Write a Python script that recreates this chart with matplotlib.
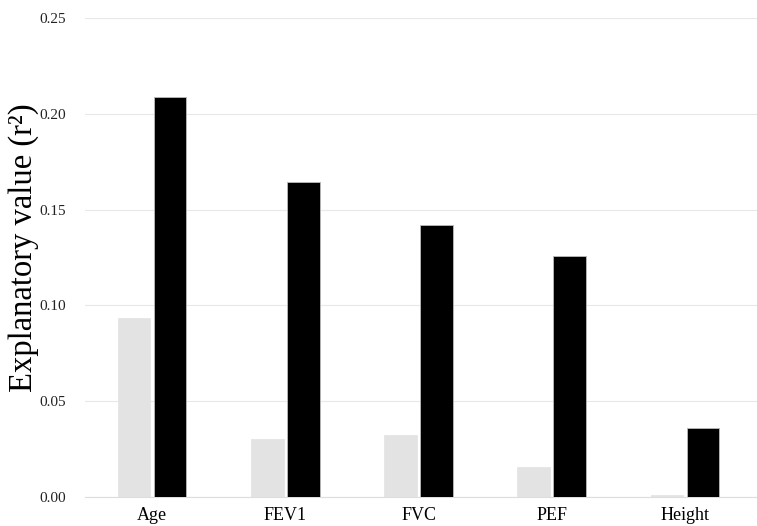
import numpy as np
import matplotlib
matplotlib.use('Agg')
import matplotlib.pyplot as plt

plt.rcParams['font.family'] = ['Liberation Serif', 'DejaVu Serif']

categories = ["Age", "FEV1", "FVC", "PEF", "Height"]
light_vals = [0.0934, 0.0303, 0.0324, 0.0157, 0.0010]
dark_vals = [0.2088, 0.1644, 0.1420, 0.1258, 0.0360]
yticks = [0.00, 0.05, 0.10, 0.15, 0.20, 0.25]

fig = plt.figure(figsize=(7.57, 5.26), dpi=100)
ax = fig.add_axes([85/757, 29/526, 1 - 85/757, 479/526])

x = np.arange(len(categories))
w = 0.245
ax.bar(x - 0.135, light_vals, width=w, color='#e3e3e3', edgecolor='#e3e3e3', linewidth=0.5, zorder=3)
ax.bar(x + 0.135, dark_vals, width=w, color='black', edgecolor='#bbbbbb', linewidth=0.6, zorder=3)

ax.set_xlim(-0.503, 4.54)
ax.set_ylim(0, 0.25)
ax.set_yticks(yticks)
ax.set_yticklabels([f"{v:.2f}" for v in yticks], fontsize=11, color='#222222')
ax.set_xticks(x)
ax.set_xticklabels(categories, fontsize=13)
ax.yaxis.grid(True, color='#e8e8e8', linewidth=0.8, zorder=0)
ax.tick_params(axis='x', length=0, pad=7)
ax.tick_params(axis='y', length=0, pad=14)
for s in ['top', 'right', 'left']:
    ax.spines[s].set_visible(False)
ax.spines['bottom'].set_color('#dddddd')
ax.set_ylabel("Explanatory value (r²)", fontsize=23.5)
ax.yaxis.set_label_coords(-0.069, 0.52)

fig.savefig("out.png", dpi=100)
